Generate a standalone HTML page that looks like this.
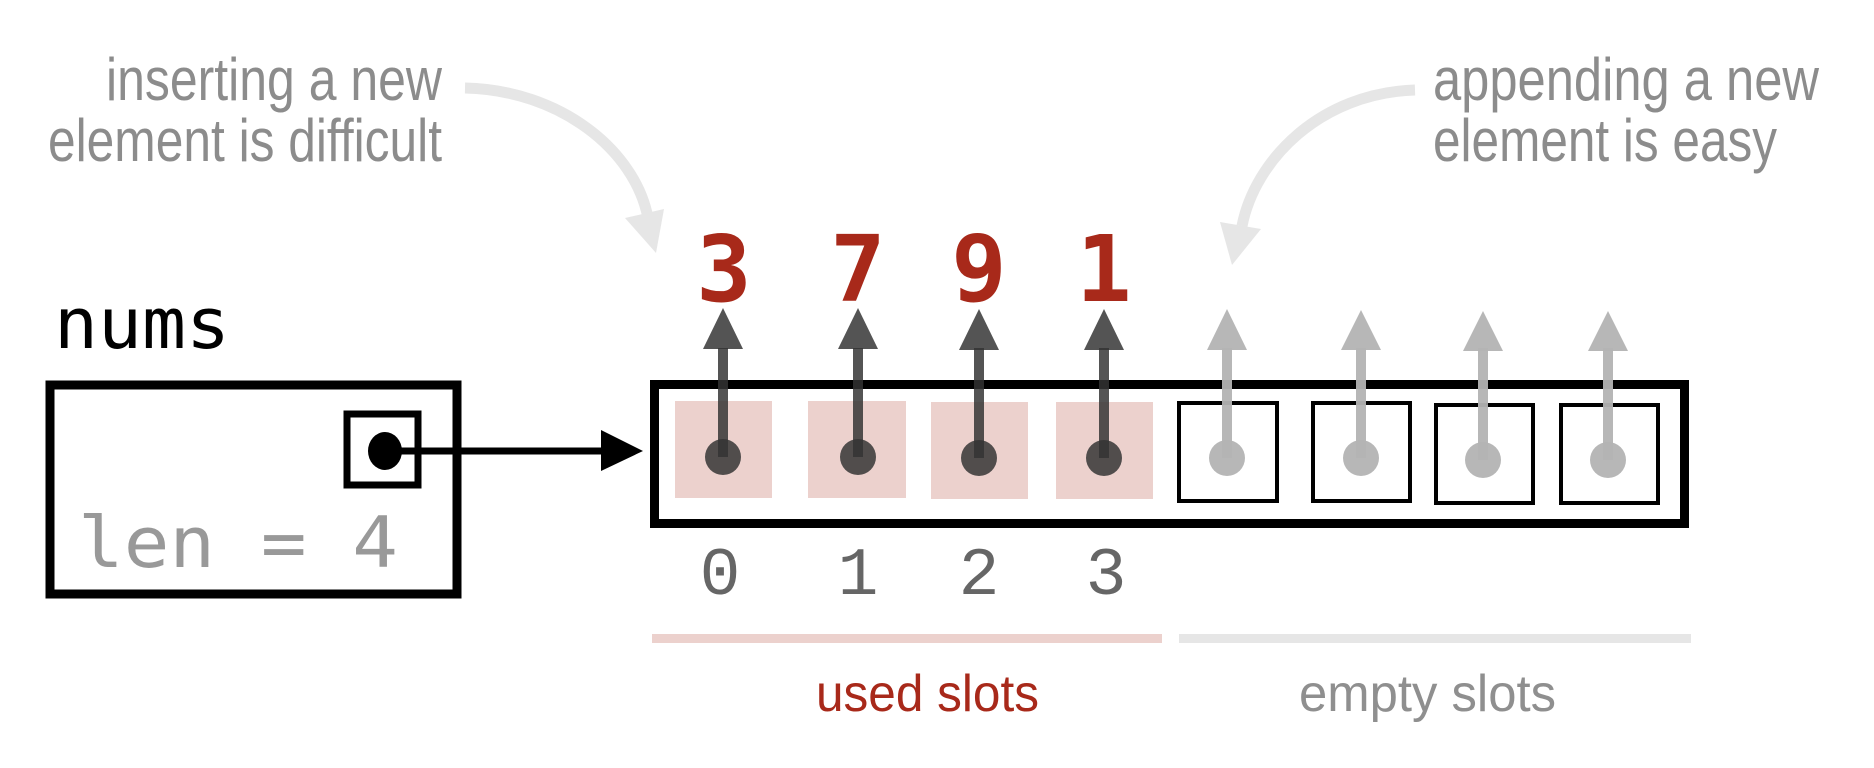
<!DOCTYPE html>
<html><head><meta charset="utf-8"><style>
html,body{margin:0;padding:0;background:#fff;}
svg{display:block;}
</style></head><body>
<svg width="1874" height="768" viewBox="0 0 1874 768" xmlns="http://www.w3.org/2000/svg">
<g font-family="Liberation Sans, sans-serif" font-size="60" fill="#8c8c8c">
<text x="106" y="100" textLength="336" lengthAdjust="spacingAndGlyphs">inserting a new</text>
<text x="48" y="161" textLength="394" lengthAdjust="spacingAndGlyphs">element is difficult</text>
<text x="1433" y="100" textLength="386" lengthAdjust="spacingAndGlyphs">appending a new</text>
<text x="1433" y="161" textLength="344" lengthAdjust="spacingAndGlyphs">element is easy</text>
</g>
<path d="M465,88 C560,90 635,150 648,218" fill="none" stroke="#e6e6e6" stroke-width="11"/>
<polygon points="625,218 664,209 656,253" fill="#e6e6e6"/>
<path d="M1415,90 C1320,93 1255,160 1242,226" fill="none" stroke="#e6e6e6" stroke-width="11"/>
<polygon points="1220,222 1261,229 1232,265" fill="#e6e6e6"/>

<text x="54" y="348" font-family="DejaVu Sans Mono, monospace" font-size="70" fill="#000" textLength="176" lengthAdjust="spacingAndGlyphs">nums</text>
<rect x="50" y="385" width="407" height="209" fill="none" stroke="#000" stroke-width="9"/>
<rect x="347" y="414" width="71" height="71" fill="none" stroke="#000" stroke-width="7"/>
<text x="78" y="567" font-family="DejaVu Sans Mono, monospace" font-size="70" fill="#999" textLength="320" lengthAdjust="spacingAndGlyphs">len = 4</text>
<line x1="385" y1="451" x2="605" y2="451" stroke="#000" stroke-width="7"/>
<polygon points="601,430 643,451 601,471" fill="#000"/>
<ellipse cx="385" cy="451" rx="17" ry="19" fill="#000"/>

<rect x="654.5" y="384.5" width="1030" height="139" fill="none" stroke="#000" stroke-width="9"/>
<g fill="#ecd1cd">
<rect x="675" y="401" width="97" height="97"/>
<rect x="808" y="401" width="98" height="97"/>
<rect x="931" y="402" width="97" height="97"/>
<rect x="1056" y="402" width="97" height="97"/>
</g>
<g fill="none" stroke="#000" stroke-width="4">
<rect x="1179" y="403" width="98" height="98"/>
<rect x="1313" y="403" width="97" height="98"/>
<rect x="1436" y="405" width="97" height="98"/>
<rect x="1561" y="405" width="97" height="98"/>
</g>
<g fill="#333" stroke="#333" fill-opacity="0.84" stroke-opacity="0.84">
<line x1="723" y1="457" x2="723" y2="348" stroke-width="10"/><polygon points="703,349 743,349 723,308" stroke="none"/><circle cx="723" cy="457" r="18" stroke="none"/>
<line x1="858" y1="457" x2="858" y2="348" stroke-width="10"/><polygon points="838,349 878,349 858,308" stroke="none"/><circle cx="858" cy="457" r="18" stroke="none"/>
<line x1="979" y1="458" x2="979" y2="348" stroke-width="10"/><polygon points="959,350 999,350 979,309" stroke="none"/><circle cx="979" cy="458" r="18" stroke="none"/>
<line x1="1104" y1="458" x2="1104" y2="348" stroke-width="10"/><polygon points="1084,350 1124,350 1104,309" stroke="none"/><circle cx="1104" cy="458" r="18" stroke="none"/>
</g>
<g fill="#b3b3b3" stroke="#b3b3b3" fill-opacity="0.95" stroke-opacity="0.95">
<line x1="1227" y1="458" x2="1227" y2="348" stroke-width="10"/><polygon points="1207,350 1247,350 1227,309" stroke="none"/><circle cx="1227" cy="458" r="18" stroke="none"/>
<line x1="1361" y1="458" x2="1361" y2="348" stroke-width="10"/><polygon points="1341,350 1381,350 1361,310" stroke="none"/><circle cx="1361" cy="458" r="18" stroke="none"/>
<line x1="1483" y1="460" x2="1483" y2="348" stroke-width="10"/><polygon points="1463,351 1503,351 1483,311" stroke="none"/><circle cx="1483" cy="460" r="18" stroke="none"/>
<line x1="1608" y1="460" x2="1608" y2="348" stroke-width="10"/><polygon points="1588,351 1628,351 1608,311" stroke="none"/><circle cx="1608" cy="460" r="18" stroke="none"/>
</g>
<g font-family="DejaVu Sans Mono, monospace" font-weight="bold" font-size="92" fill="#a8291a" text-anchor="middle">
<text x="724" y="301">3</text><text x="858" y="301">7</text><text x="979" y="301">9</text><text x="1104" y="301">1</text>
</g>
<g font-family="Liberation Mono, monospace" font-size="68" fill="#666" text-anchor="middle">
<text x="720" y="594">0</text><text x="858" y="594">1</text><text x="979" y="594">2</text><text x="1106" y="594">3</text>
</g>
<rect x="652" y="634" width="510" height="9" fill="#ecd1cd"/>
<rect x="1179" y="634" width="512" height="9" fill="#e6e6e6"/>
<text x="816" y="711" font-family="Liberation Sans, sans-serif" font-size="52" fill="#a8291a" textLength="223" lengthAdjust="spacingAndGlyphs">used slots</text>
<text x="1299" y="711" font-family="Liberation Sans, sans-serif" font-size="52" fill="#8f8f8f" textLength="257" lengthAdjust="spacingAndGlyphs">empty slots</text>
</svg>
</body></html>
